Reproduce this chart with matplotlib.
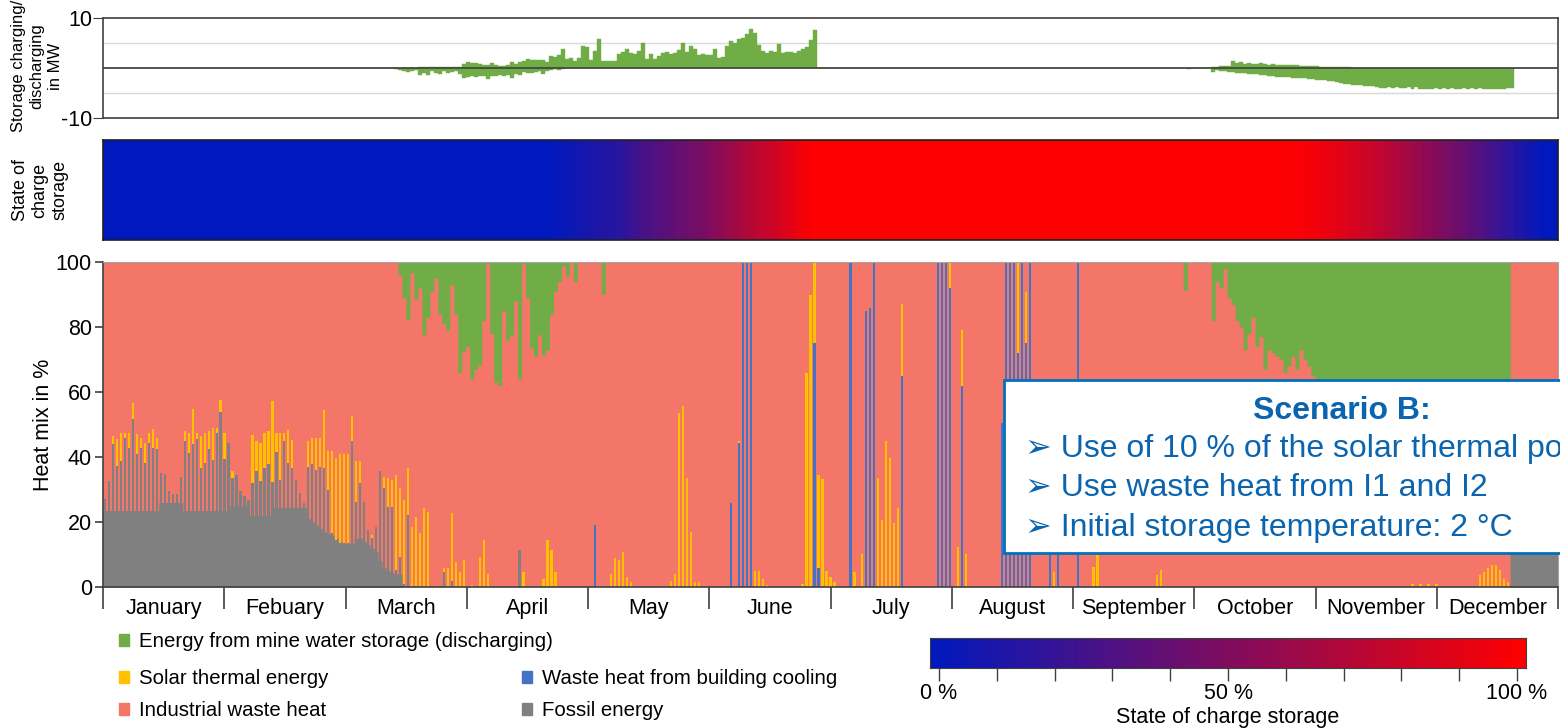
import numpy as np
import matplotlib
matplotlib.use('Agg')
import matplotlib.pyplot as plt
from matplotlib.colors import LinearSegmentedColormap
from matplotlib.patches import Patch, Rectangle

plt.rcParams['font.family'] = ['Liberation Sans', 'DejaVu Sans']
plt.rcParams['axes.unicode_minus'] = False

N_DAYS = 365
months = ['January', 'Febuary', 'March', 'April', 'May', 'June', 'July',
          'August', 'September', 'October', 'November', 'December']

GREEN = '#70AD47'
YELLOW = '#FFC000'
SALMON = '#F37669'
BLUE = '#4472C4'
GRAY = '#808080'
DARK = '#404040'
TXT_BLUE = '#0B64AE'

# ---- storage charging (+) / discharging (-) in MW, daily, (start day, values)
charge_pos = [
    (78, [0.1, 0.2, 0.2, 0.2, 0.2, 0.2, 0.2, 0.2, 0.2, 0.2, 0.2,
          0.3, 0.8, 1.1, 1.0, 0.9, 0.8, 0.6, 0.7, 0.9, 0.6, 0.5,
          0.5, 0.7, 1.2, 0.8, 1.1, 1.4, 1.7, 1.5, 1.6, 1.5, 1.5, 1.2,
          2.3, 2.2, 2.5, 3.7, 1.8, 2.0, 1.4, 2.0,
          4.3, 4.2, 1.6, 3.3, 5.7,
          1.4, 1.3, 1.3, 1.4,
          2.7, 3.2, 3.7, 3.0, 2.7, 3.3, 5.0, 1.8,
          2.7, 1.8, 2.3, 3.0, 3.1, 2.8, 3.0, 3.6, 5.0,
          3.2, 4.3, 3.7,
          2.6, 2.7, 2.6, 2.6, 3.7, 2.0, 2.2,
          4.3, 5.3, 5.0, 5.7, 6.0, 6.7, 7.7, 7.0, 4.5,
          3.3, 3.0, 3.3, 3.1, 4.7, 3.0, 3.1, 3.2, 3.0, 3.3,
          3.7, 4.2, 5.5, 7.5]),
    (272, [0.1]),
    (278, [0.2, 0.3, 0.4, 0.5, 0.5, 1.3, 0.9, 1.1, 0.8, 0.9,
           0.8, 0.8, 0.9, 0.8, 0.7, 0.8, 0.7, 0.7, 0.7, 0.6,
           0.7, 0.6, 0.5, 0.4, 0.4, 0.4, 0.4, 0.3, 0.3, 0.3,
           0.3, 0.2, 0.2, 0.2, 0.2]),
]
charge_neg = [
    (73, [-0.2, -0.3, -0.5, -0.8, -0.5, -0.3,
          -1.3, -1.0, -1.3, -0.6, -1.0, -1.2, -0.6, -1.0, -0.8, -0.5,
          -1.2, -2.0, -1.8, -1.5, -1.8, -1.5, -1.6, -2.1, -1.5, -1.6, -1.4,
          -1.5, -1.3, -1.9, -1.2, -1.3, -0.8, -1.0, -0.9, -0.8, -0.6, -1.1, -0.6,
          -0.3, -0.2, -0.3, -0.2]),
    (272, [-0.2]),
    (278, [-0.7, -0.3, -0.5, -0.6, -0.7, -0.8, -0.9, -0.9, -1.0, -1.1,
           -1.1, -1.2, -1.3, -1.4, -1.6, -1.6, -1.7, -1.8, -1.8, -1.8,
           -1.9, -1.9, -2.0, -2.0, -2.1, -2.2, -2.3, -2.3, -2.4, -2.5,
           -2.6, -2.7, -2.9, -3.1, -3.2, -3.3, -3.3, -3.4, -3.5, -3.5,
           -3.6, -3.8, -3.9, -4.0, -3.8, -4.0, -3.8, -4.0, -4.0, -3.8,
           -4.1, -3.8, -4.2, -4.2, -4.2, -4.2, -3.9, -4.2, -3.9, -4.2,
           -3.9, -4.2, -4.2, -3.9, -4.2, -3.9, -4.2, -3.9, -4.2, -4.2,
           -4.2, -4.2, -4.2, -4.2, -4.0, -3.9]),
]

# ---- state of charge of the storage in %, daily
soc = [
    (112, [1, 1, 2, 3, 4, 5, 6, 7, 8, 9, 10, 11, 12, 13, 13, 14, 15, 16, 18, 20,
           22, 24, 26, 28, 29, 30, 32, 33, 34, 36, 37, 38, 40, 41, 42, 44, 45, 46, 47, 49,
           51, 53, 55, 57, 59, 61, 63, 65, 67, 69, 71, 73, 75, 76, 77, 79, 81, 83, 85, 87,
           89, 91, 93, 95, 96, 98, 100]),
    (179, [100] * 116),
    (295, [99, 99, 98, 98, 97, 97, 96, 96, 95, 94, 93, 92, 91, 90, 89, 88, 86, 85, 84, 83,
           82, 80, 79, 78, 76, 75, 73, 72, 70, 68, 67, 65, 64, 62, 60, 59, 57, 55, 53, 52,
           50, 48, 47, 45, 43, 42, 40, 38, 36, 34, 32, 30, 28, 26, 24, 22, 20, 18, 16, 14,
           12, 10, 8, 6, 4, 2]),
]

# ---- heat mix in %, daily
# fossil share between the daily peaks (base level)
fossil_base = [
    (0, [23.5] * 14 + [26] * 6 + [23.5] * 11 + [25] * 5 + [22] * 6 + [24.5] * 9
        + [21, 20, 19, 18, 17, 16.5, 16, 15, 14, 13.5, 13.5, 13.5]
        + [15, 15, 14, 13, 12, 11] + [8, 6, 5, 4.5, 4, 4]),
    (353, [25] * 12),
]
# fossil share at the daily peak
fossil = [
    (0, [27, 32.6, 43.9, 37.2, 38.8, 46, 42.9, 51.6, 40.8, 42.9, 38.2, 44.4, 42.9, 42.4,
         35.2, 34.8, 29.5, 28.7, 28.5, 33.8, 45, 41.3, 43.9, 45.5, 36.5, 38.2, 42.4, 39,
         47.5, 53.7, 39.3, 44.4, 33.6, 34.6, 29.5, 27.9, 26.9, 32, 35.7, 32.6, 36.5, 37.7,
         32.4, 41.6, 32.8, 45, 38.2, 36.7,
         33, 29, 26, 37, 38, 36, 37, 36.6, 30, 16.5, 14.4, 13.6, 13.4, 13.6, 44.8, 26.3,
         32, 26.3, 17.5, 15, 18.6, 35.6, 30.4, 24.7, 24.7, 5.2, 9.3, 1, 22.2]),
    (85, [4.6]), (87, [2]), (104, [11.3]),
]
solar = [
    (0, [0, 0, 2.6, 8.3, 8.7, 1.5, 4.6, 4.9, 6.4, 3.1, 6.2, 3.1, 5.7, 3.6, 0, 0, 0, 0, 0, 0,
         3, 6.2, 10.8, 2, 10, 9.3, 5.6, 9.8, 1.3, 3.8, 8.2, 0, 2.1, 0, 0, 0, 0,
         14.8, 9.3, 11.8, 11, 10.3, 24.7, 5.9, 14.7, 2.5, 10, 8.5,
         0, 0, 0, 8, 8, 10, 9, 18, 12, 25.3, 25.3, 27.4, 27.6, 27.4, 7.8, 12.4, 6.7,
         0, 0, 1, 0, 0, 3.6, 8.8, 8.3, 29.3, 21.1, 25.8, 14.4, 18.6, 21.6, 16.5, 24.2, 23.2]),
]
solar_days = {85: 1.4, 86: 6, 87: 20.7, 88: 7.7, 89: 4.6, 90: 8.2, 92: 0.5, 94: 9.3,
              95: 14.4, 96: 4.1, 105: 4.6, 110: 2.6, 111: 14.4, 112: 11.3, 113: 4.6,
              127: 4, 128: 8.8, 129: 8.2, 130: 10.8, 131: 3, 132: 1.5,
              142: 2, 143: 4, 144: 53.6, 145: 55.7, 146: 33.5, 147: 17, 148: 1.5, 149: 1.5,
              159: 0.5, 163: 5, 164: 5, 165: 2.6, 166: 0.5,
              175: 1, 176: 66, 177: 90, 178: 25, 179: 28.4, 180: 33.2, 181: 5, 182: 3, 183: 1.5,
              188: 4.6, 190: 10.3, 194: 33.5, 195: 20.6, 196: 44.8, 197: 39.7, 198: 19.6,
              199: 24.2, 200: 22, 212: 8, 214: 12.4, 215: 17, 216: 10.3, 229: 28, 231: 15.7,
              238: 4.6, 248: 6.2, 249: 9.8, 264: 3.6, 265: 5.2,
              328: 0.8, 330: 0.8, 332: 0.8, 334: 0.8,
              345: 3.6, 346: 4.6, 347: 5.7, 348: 6.7, 349: 6.7, 350: 5.2, 351: 2.6, 352: 1.5}
cooling_days = {123: 19, 157: 25.8, 159: 44.3, 160: 100, 161: 100, 162: 100, 178: 75, 179: 6,
                187: 100, 191: 85, 192: 86, 193: 100, 200: 65, 209: 100, 210: 100, 211: 100,
                212: 92, 215: 62, 225: 50.5, 226: 100, 227: 100, 228: 100, 229: 72, 230: 100,
                231: 75, 232: 100, 237: 11.3, 239: 11.3, 244: 100}
storage = [
    (74, [4, 11, 17.7, 3.3, 11.5, 8, 22.4, 17, 9, 5, 16, 19, 21, 7, 16, 34, 27.5, 26, 36, 33,
          31.6, 18, 0.5, 22, 37, 38, 15, 24, 22.4, 12, 36, 0.5, 11, 26.5, 29, 22.4, 28.6, 27,
          16.2, 9, 6, 1.2, 4.3, 0, 6, 0, 0, 0, 0, 0, 0, 10]),
    (271, [8.8]),
    (278, [18, 6, 8, 2, 11, 13, 18, 20, 27, 22, 17, 26, 23, 33, 27, 28, 29, 30, 34, 32,
           29, 33, 27, 30, 32, 35,
           36, 37, 38, 38, 39, 40, 41, 41, 42, 43, 44, 44, 45, 46, 46, 47, 48, 48, 49, 50,
           50, 51, 52, 52, 53, 54, 54, 55, 55, 56, 56, 57, 57, 58, 58, 59, 59, 60, 60, 60,
           61, 61, 61, 62, 62, 62, 62, 62, 62]),
]

scenario_lines = ['Use of 10 % of the solar thermal potential',
                  'Use waste heat from I1 and I2',
                  'Initial storage temperature: 2 \u00b0C']


def daily(segments=(), points=None):
    arr = np.zeros(N_DAYS)
    for start, vals in segments:
        arr[start:start + len(vals)] = vals
    for d, v in (points or {}).items():
        arr[d] = v
    return arr


days = np.arange(N_DAYS)
c_pos = daily(charge_pos)
c_neg = daily(charge_neg)
soc_arr = daily(soc)
f_base = daily(fossil_base)
f_peak = daily(fossil)
sol = daily(solar, solar_days)
cool = daily(points=cooling_days)
stor = daily(storage)

W, H = 1560, 728
FS = 15.5


def rect(x0, y0, x1, y1):
    return [x0 / W, 1 - y1 / H, (x1 - x0) / W, (y1 - y0) / H]


soc_cmap = LinearSegmentedColormap.from_list('soc', ['#0019BE', '#FF0000'])
month_edges = np.arange(13) * N_DAYS / 12

fig = plt.figure(figsize=(W / 100, H / 100), dpi=100)

# ---- top: charging / discharging
ax1 = fig.add_axes(rect(103, 18, 1558, 118))
for y in (5, -5):
    ax1.axhline(y, color='#d9d9d9', lw=1, zorder=0)
ax1.bar(days, c_pos, width=1, align='edge', color=GREEN, lw=0.3, edgecolor=GREEN)
ax1.bar(days, c_neg, width=1, align='edge', color=GREEN, lw=0.3, edgecolor=GREEN)
ax1.axhline(0, color=DARK, lw=1.2)
ax1.set_xlim(0, N_DAYS)
ax1.set_ylim(-10, 10)
ax1.set_yticks([-10, 10])
ax1.set_xticks([])
ax1.tick_params(axis='y', length=7, labelsize=FS, pad=1, color=DARK)
for s in ax1.spines.values():
    s.set_color(DARK)
    s.set_linewidth(1.2)
fig.text(37 / W, 1 - 66 / H, 'Storage charging/\ndischarging\nin MW', rotation=90,
         ha='center', va='center', fontsize=12, linespacing=1.3)

# ---- middle: state of charge strip
ax2 = fig.add_axes(rect(103, 140, 1558, 240))
ax2.imshow(soc_arr[None, :], cmap=soc_cmap, vmin=0, vmax=100, aspect='auto',
           extent=[0, N_DAYS, 0, 1], interpolation='nearest')
ax2.set_xticks([])
ax2.set_yticks([])
for s in ax2.spines.values():
    s.set_color('#202020')
    s.set_linewidth(1.2)
fig.text(40 / W, 1 - 190 / H, 'State of\ncharge\nstorage', rotation=90,
         ha='center', va='center', fontsize=13, linespacing=1.2)

# ---- bottom: heat mix
ax3 = fig.add_axes(rect(103, 262, 1558, 587))
ax3.set_facecolor(SALMON)
edges = np.arange(N_DAYS + 1)
ax3.fill_between(edges, 0, np.append(f_base, f_base[-1]), step='post', color=GRAY, lw=0)
ax3.fill_between(edges, np.append(100 - stor, 100 - stor[-1]), 100, step='post',
                 color=GREEN, lw=0)
ax3.bar(days + 0.5, f_peak, width=0.55, color=GRAY, lw=0)
ax3.bar(days + 0.5, cool, bottom=f_peak, width=0.55, color=BLUE, lw=0)
ax3.bar(days + 0.5, sol, bottom=f_peak + cool, width=0.55, color=YELLOW, lw=0)
ax3.set_xlim(0, N_DAYS)
ax3.set_ylim(0, 100)
ax3.set_yticks(range(0, 101, 20))
ax3.set_xticks(month_edges)
ax3.set_xticklabels([])
ax3.set_xticks(month_edges[:-1] + N_DAYS / 24, minor=True)
ax3.set_xticklabels(months, minor=True)
ax3.tick_params(axis='x', which='major', length=16, width=1.2, color=DARK)
ax3.tick_params(axis='x', which='minor', length=0, pad=8, labelsize=FS)
ax3.tick_params(axis='y', length=6, width=1.2, color=DARK, labelsize=FS, pad=2)
for side in ('left', 'bottom'):
    ax3.spines[side].set_color(DARK)
    ax3.spines[side].set_linewidth(1.2)
for side in ('top', 'right'):
    ax3.spines[side].set_color('#a6a6a6')
ax3.set_ylabel('Heat mix in %', fontsize=FS, labelpad=1)

# ---- scenario box
fig.add_artist(Rectangle((1004 / W, 1 - 553 / H), 700 / W, 173 / H,
                         transform=fig.transFigure, facecolor='white',
                         edgecolor='#0070C0', lw=2, zorder=5))
fig.text(1342 / W, 1 - 411 / H, 'Scenario B:', color=TXT_BLUE, fontsize=23,
         fontweight='bold', ha='center', va='center', zorder=6)
for i, line in enumerate(scenario_lines):
    fig.text(1025 / W, 1 - (449 + 39.5 * i) / H, '\u27a2 ' + line, color=TXT_BLUE,
             fontsize=23, ha='left', va='center', zorder=6)

# ---- legends
h_green = Patch(color=GREEN, label='Energy from mine water storage (discharging)')
h_solar = Patch(color=YELLOW, label='Solar thermal energy')
h_ind = Patch(color=SALMON, label='Industrial waste heat')
h_cool = Patch(color=BLUE, label='Waste heat from building cooling')
h_fossil = Patch(color=GRAY, label='Fossil energy')
leg_kw = dict(frameon=False, fontsize=14.7, handlelength=0.5, handleheight=0.5,
              handletextpad=0.5, borderpad=0, borderaxespad=0)
fig.legend(handles=[h_green], loc='upper left', bbox_to_anchor=(119 / W, 1 - 632 / H), **leg_kw)
fig.legend(handles=[h_solar, h_ind, h_cool, h_fossil], ncol=2, loc='upper left',
           bbox_to_anchor=(119 / W, 1 - 669 / H), columnspacing=9.45, labelspacing=0.65,
           **leg_kw)

# ---- colour scale for state of charge
axc = fig.add_axes(rect(930, 638, 1526, 668))
axc.imshow(np.linspace(0, 100, 256)[None, :], cmap=soc_cmap, aspect='auto',
           extent=[-1.56, 101.56, 0, 1])
axc.set_xlim(-1.56, 101.56)
axc.set_yticks([])
axc.set_xticks(range(0, 101, 10))
axc.set_xticklabels(['0 %', '', '', '', '', '50 %', '', '', '', '', '100 %'])
axc.tick_params(axis='x', length=9, width=1, color=DARK, labelsize=FS, pad=2)
axc.set_xlabel('State of charge storage', fontsize=FS, labelpad=2)
for s in axc.spines.values():
    s.set_color(DARK)

fig.savefig('out.png', dpi=100)
